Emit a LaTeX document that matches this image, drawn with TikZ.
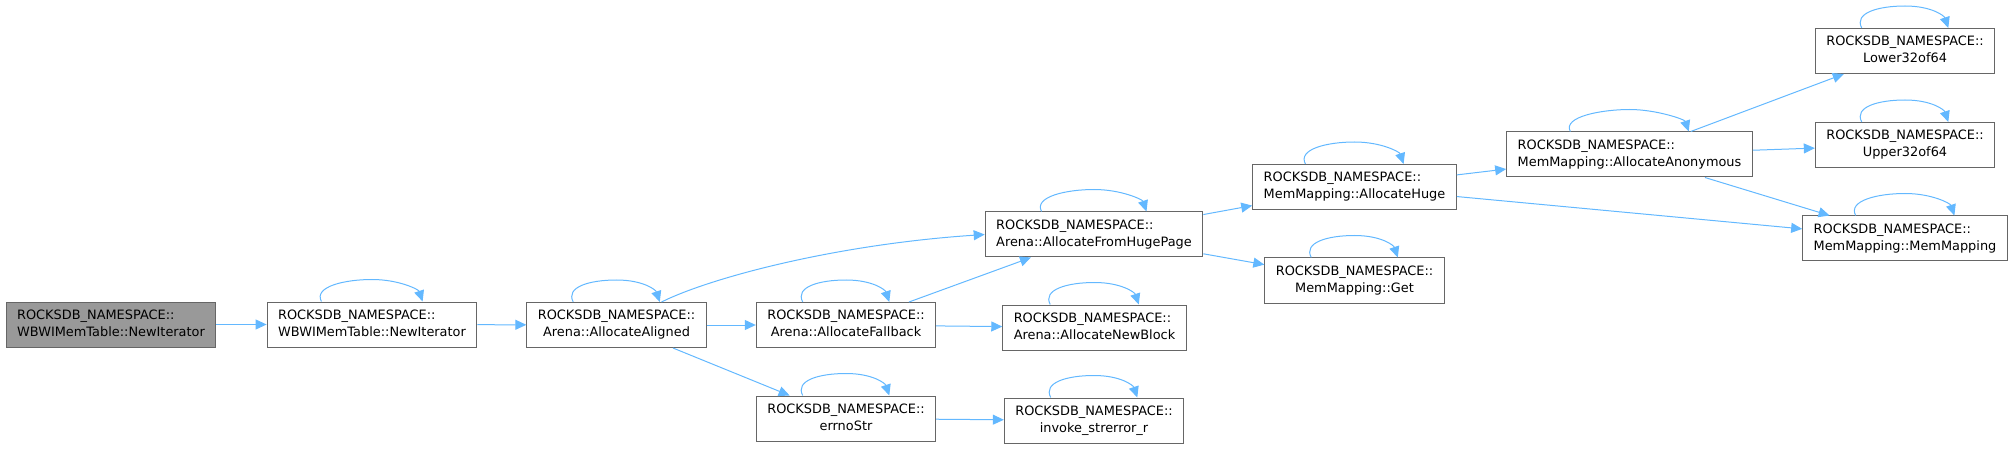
\documentclass[tikz,border=0pt]{standalone}
\usepackage{fontspec}
\setmainfont{DejaVu Sans}
\usepackage{xcolor}
\usepackage{tikz}
\usetikzlibrary{arrows.meta,calc}

\definecolor{edgeblue}{HTML}{63B8FF}
\definecolor{boxgray}{HTML}{666666}
\definecolor{rootgray}{HTML}{999999}

\newcommand{\rdbname}[1]{\begin{tabular}{@{}l@{}}ROCKSDB\_NAMESPACE::\\\multicolumn{1}{@{}c@{}}{#1}\end{tabular}}

\begin{document}
\begin{tikzpicture}[x=1pt, y=1pt,
    func/.style={draw=boxgray, line width=1pt, fill=white, minimum height=45pt, inner xsep=11pt, inner ysep=0pt, font=\fontsize{12.9}{17}\selectfont},
    arrow/.style={-{Triangle[length=11pt, width=10pt]}, draw=edgeblue, line width=1pt}
]
    \useasboundingbox (0,0) rectangle (2014,-449);

    % Call graph functions
    \node[func, fill=rootgray] (root) at (111,-324.5) {\rdbname{WBWIMemTable::NewIterator}};
    \node[func] (wbwi) at (372,-324.5) {\rdbname{WBWIMemTable::NewIterator}};
    \node[func] (aligned) at (616.5,-325) {\rdbname{Arena::AllocateAligned}};
    \node[func] (fallback) at (846,-325) {\rdbname{Arena::AllocateFallback}};
    \node[func] (errno) at (846,-418.5) {\rdbname{errnoStr}};
    \node[func] (hugepage) at (1094,-234.5) {\rdbname{Arena::AllocateFromHugePage}};
    \node[func] (newblock) at (1094.5,-327.5) {\rdbname{Arena::AllocateNewBlock}};
    \node[func] (strerror) at (1094,-420.5) {\rdbname{invoke\_strerror\_r}};
    \node[func] (allochuge) at (1354.5,-187) {\rdbname{MemMapping::AllocateHuge}};
    \node[func] (get) at (1354.5,-280.5) {\rdbname{MemMapping::Get}};
    \node[func] (anon) at (1629.5,-154.5) {\rdbname{MemMapping::AllocateAnonymous}};
    \node[func] (lower) at (1905,-51) {\rdbname{Lower32of64}};
    \node[func] (upper) at (1905,-145) {\rdbname{Upper32of64}};
    \node[func] (memmap) at (1905,-238.5) {\rdbname{MemMapping::MemMapping}};

    % Recursive calls
    \foreach \n in {wbwi,aligned,fallback,errno,hugepage,newblock,strerror,allochuge,get,anon,lower,upper,memmap}
        \draw[arrow] ($(\n.north west)!0.26!(\n.north east)$) .. controls +(-8,15) and +(-27,0) .. ($(\n.north)+(0,22)$) .. controls +(27,0) and +(-4,12) .. ($(\n.north west)!0.74!(\n.north east)$);

    % Calls
    \draw[arrow] (root) -- (wbwi);
    \draw[arrow] (wbwi) -- (aligned);
    \draw[arrow] ($(aligned.north)+(45,0)$) .. controls +(48,24) and +(-150,-10) .. (hugepage.west);
    \draw[arrow] (aligned) -- (fallback);
    \draw[arrow] (aligned) -- (errno);
    \draw[arrow] (fallback) -- (hugepage);
    \draw[arrow] (fallback) -- (newblock);
    \draw[arrow] (errno) -- (strerror);
    \draw[arrow] (hugepage) -- (allochuge);
    \draw[arrow] (hugepage) -- (get);
    \draw[arrow] (allochuge) -- (anon);
    \draw[arrow] (allochuge) -- (memmap);
    \draw[arrow] (anon) -- (lower);
    \draw[arrow] (anon) -- (upper);
    \draw[arrow] (anon) -- (memmap);
\end{tikzpicture}
\end{document}
